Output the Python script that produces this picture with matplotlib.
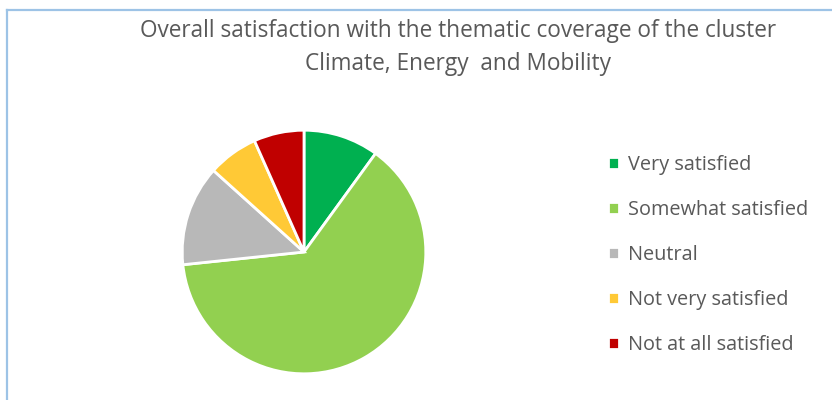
import matplotlib.pyplot as plt
from matplotlib.lines import Line2D

labels = ['Very satisfied', 'Somewhat satisfied', 'Neutral',
          'Not very satisfied', 'Not at all satisfied']
counts = [3, 19, 4, 2, 2]
colors = ['#00B050', '#92D050', '#B8B8B8', '#FFC936', '#C00000']

W, H = 832, 400
fig = plt.figure(figsize=(W / 100, H / 100), dpi=100)
fig.patch.set_facecolor('white')

# chart frame (light blue, left + top edges visible)
fig.add_artist(Line2D([7 / W, 7 / W], [0, 1 - 10 / H], color='#9DC3E6', lw=1.6,
                      transform=fig.transFigure))
fig.add_artist(Line2D([7 / W, 1], [1 - 10 / H, 1 - 10 / H], color='#9DC3E6', lw=1.6,
                      transform=fig.transFigure))

cx, cy, r = 304, 252, 123
ax = fig.add_axes([(cx - r) / W, (H - cy - r) / H, 2 * r / W, 2 * r / H])
wedges, _ = ax.pie(counts, colors=colors, startangle=90, counterclock=False,
                   radius=1, wedgeprops=dict(edgecolor='white', linewidth=2))
ax.set_xlim(-1.01, 1.01)
ax.set_ylim(-1.01, 1.01)
ax.set_aspect('equal')
ax.axis('off')

font = 'Open Sans'
fig.text(458 / W, 1 - 31 / H,
         'Overall satisfaction with the thematic coverage of the cluster',
         ha='center', va='center', fontsize=16.3, color='#595959', family=font)
fig.text(458 / W, 1 - 64 / H, 'Climate, Energy  and Mobility',
         ha='center', va='center', fontsize=16.3, color='#595959', family=font)

leg = fig.legend(wedges, labels, loc='upper left',
                 bbox_to_anchor=(590 / W, 1 - 137 / H),
                 frameon=False, handlelength=0.55, handleheight=0.55,
                 handletextpad=0.45, labelspacing=1.26,
                 prop=dict(family=font, size=14.3))
for t in leg.get_texts():
    t.set_color('#595959')

fig.savefig('out.png', dpi=100)
